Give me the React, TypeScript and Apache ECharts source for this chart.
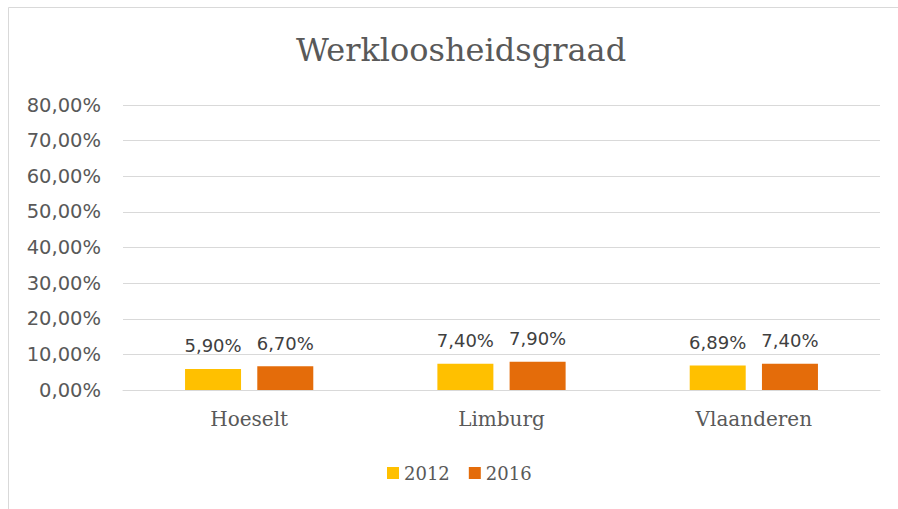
import React, { useEffect, useRef } from "react";
import * as echarts from "echarts";

const categories = ["Hoeselt", "Limburg", "Vlaanderen"];
const seriesNames = ["2012", "2016"];
const values2012 = [5.9, 7.4, 6.89];
const values2016 = [6.7, 7.9, 7.4];
const colors = ["#FFC000", "#E46C0A"];
const chartTitle = "Werkloosheidsgraad";

const fmt = (v: number) => v.toFixed(2).replace(".", ",") + "%";

export default function App() {
  const ref = useRef<HTMLDivElement>(null);
  useEffect(() => {
    if (!ref.current) return;
    const chart = echarts.init(ref.current, null, { renderer: "svg" });
    const sans = "DejaVu Sans";
    const serif = "DejaVu Serif";
    const labelStyle = {
      show: true,
      position: "top" as const,
      distance: 14,
      color: "#404040",
      fontFamily: sans,
      fontSize: 18,
      formatter: (p: any) => fmt(p.value),
    };
    chart.setOption({
      animation: false,
      backgroundColor: "#ffffff",
      title: {
        text: chartTitle,
        left: 456,
        top: 29,
        textAlign: "center",
        textStyle: { fontFamily: serif, fontSize: 32, fontWeight: "normal", color: "#595959" },
      },
      graphic: [
        { type: "line", shape: { x1: 8.5, y1: 7.5, x2: 898, y2: 7.5 }, style: { stroke: "#D9D9D9", lineWidth: 1 } },
        { type: "line", shape: { x1: 8.5, y1: 7.5, x2: 8.5, y2: 509 }, style: { stroke: "#D9D9D9", lineWidth: 1 } },
      ],
      legend: {
        data: seriesNames,
        bottom: 22,
        left: 382,
        itemWidth: 12,
        itemHeight: 12,
        itemGap: 19,
        icon: "rect",
        textStyle: { fontFamily: serif, fontSize: 18, color: "#595959" },
      },
      grid: { left: 123, right: 18, top: 105, bottom: 119 },
      xAxis: {
        type: "category",
        data: categories,
        axisLine: { lineStyle: { color: "#D9D9D9", width: 1 } },
        axisTick: { show: false },
        axisLabel: { fontFamily: serif, fontSize: 20, color: "#595959", margin: 19 },
      },
      yAxis: {
        type: "value",
        min: 0,
        max: 80,
        interval: 10,
        axisLine: { show: false },
        axisTick: { show: false },
        splitLine: { lineStyle: { color: "#D9D9D9", width: 1 } },
        axisLabel: { fontFamily: sans, fontSize: 19.5, color: "#595959", margin: 22, formatter: (v: number) => fmt(v) },
      },
      series: [
        {
          name: seriesNames[0],
          type: "bar",
          data: values2012,
          barWidth: 56,
          barGap: "29%",
          itemStyle: { color: colors[0] },
          label: labelStyle,
        },
        {
          name: seriesNames[1],
          type: "bar",
          data: values2016,
          barWidth: 56,
          barGap: "29%",
          itemStyle: { color: colors[1] },
          label: labelStyle,
        },
      ],
    });
    return () => chart.dispose();
  }, []);
  return (
    <div
      ref={ref}
      style={{ position: "fixed", left: 0, top: 0, width: 898, height: 509 }}
    />
  );
}
